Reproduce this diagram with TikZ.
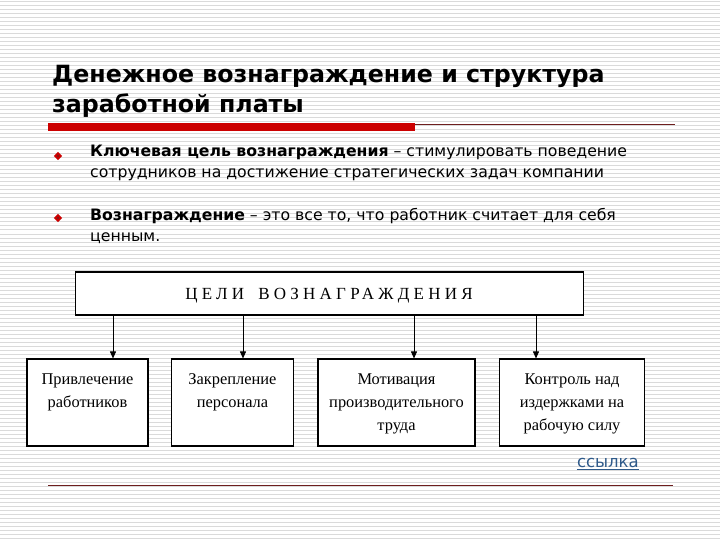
\documentclass[tikz,border=0pt]{standalone}
\usepackage{fontspec}
\usetikzlibrary{arrows.meta}
\setmainfont{DejaVu Sans}
\newfontfamily\serifb{Liberation Serif}
\newfontfamily\serifsp[LetterSpace=25]{Liberation Serif}
\definecolor{stripe}{HTML}{DADADA}
\definecolor{barred}{HTML}{CC0000}
\definecolor{darkred}{HTML}{6E1E1E}
\definecolor{linkblue}{HTML}{2F5A8A}
\tikzset{
  txt/.style={anchor=base west, inner sep=0pt, font=\fontsize{15.7}{20}\selectfont},
  goalbox/.style={draw=black, line width=1.3pt, fill=white, inner sep=0pt},
  subbox/.style={draw=black, line width=1.1pt, fill=white, inner sep=0pt},
  boxtxt/.style={anchor=base, inner sep=0pt, font=\serifb\fontsize{16.4}{23}\selectfont, align=center},
  arr/.style={line width=0.9pt, -{Triangle[length=7pt,width=6pt]}},
  bul/.style={fill=barred, draw=none, minimum size=6pt, inner sep=0pt, rotate=45, shape=rectangle}
}
\begin{document}
\begin{tikzpicture}[x=1pt,y=-1pt]
\useasboundingbox (0,0) rectangle (720,540);
\fill[white] (0,0) rectangle (720,540);
\foreach \k in {0,...,134} {\draw[stripe, line width=1pt] (0,4*\k+2) -- (720,4*\k+2);}
% title
\node[anchor=base west, inner sep=0pt, font=\bfseries\fontsize{23.7}{30}\selectfont] (t1) at (52,83) {Денежное вознаграждение и структура};
\node[anchor=base west, inner sep=0pt, font=\bfseries\fontsize{23.7}{30}\selectfont] (t2) at (52,113) {заработной платы};
% header rule
\fill[barred] (48,123) rectangle (415,131);
\draw[darkred, line width=1pt] (415,124.5) -- (675,124.5);
% bullets
\node[bul] (b1) at (58,156) {};
\fill[darkred] (b1.center) circle (1.2pt);
\node[bul] (b2) at (58,218) {};
\fill[darkred] (b2.center) circle (1.2pt);
\node[txt] (l1) at (90,157) {\textbf{Ключевая цель вознаграждения} – стимулировать поведение};
\node[txt] (l2) at (90,178) {сотрудников на достижение стратегических задач компании};
\node[txt] (l3) at (90,221) {\textbf{Вознаграждение} – это все то, что работник считает для себя};
\node[txt] (l4) at (90,241) {ценным.};
% goal box
\node[goalbox, minimum width=508pt, minimum height=43pt] (goal) at (329.5,293.5) {};
\node[anchor=base, inner sep=0pt, font=\serifsp\fontsize{17}{20}\selectfont] (gt) at (329,299) {ЦЕЛИ\hspace{14pt}ВОЗНАГРАЖДЕНИЯ};
% sub boxes
\node[subbox, minimum width=121pt, minimum height=87pt] (s1) at (87.5,402.5) {};
\node[subbox, minimum width=122pt, minimum height=87pt] (s2) at (232.5,402.5) {};
\node[subbox, minimum width=157pt, minimum height=87pt] (s3) at (396.5,402.5) {};
\node[subbox, minimum width=145pt, minimum height=87pt] (s4) at (572,402.5) {};
\node[boxtxt] (s1t) at (87.5,407) {Привлечение\\работников};
\node[boxtxt] (s2t) at (232.5,407) {Закрепление\\персонала};
\node[boxtxt] (s3t) at (396.5,430) {Мотивация\\производительного\\труда};
\node[boxtxt] (s4t) at (572,430) {Контроль над\\издержками на\\рабочую силу};
% arrows
\draw[arr] (goal.south -| 113,0) -- (s1.north -| 113,0);
\draw[arr] (goal.south -| 243,0) -- (s2.north -| 243,0);
\draw[arr] (goal.south -| 414,0) -- (s3.north -| 414,0);
\draw[arr] (goal.south -| 536,0) -- (s4.north -| 536,0);
% link
\node[anchor=base east, inner sep=0pt, font=\fontsize{16.5}{20}\selectfont, text=linkblue] (link) at (639,467) {ссылка};
\draw[linkblue, line width=0.9pt] ([yshift=-2.5pt]link.base west) -- ([yshift=-2.5pt]link.base east);
% bottom rule
\draw[darkred, line width=1pt] (48,485) -- (673,485);
\end{tikzpicture}
\end{document}
